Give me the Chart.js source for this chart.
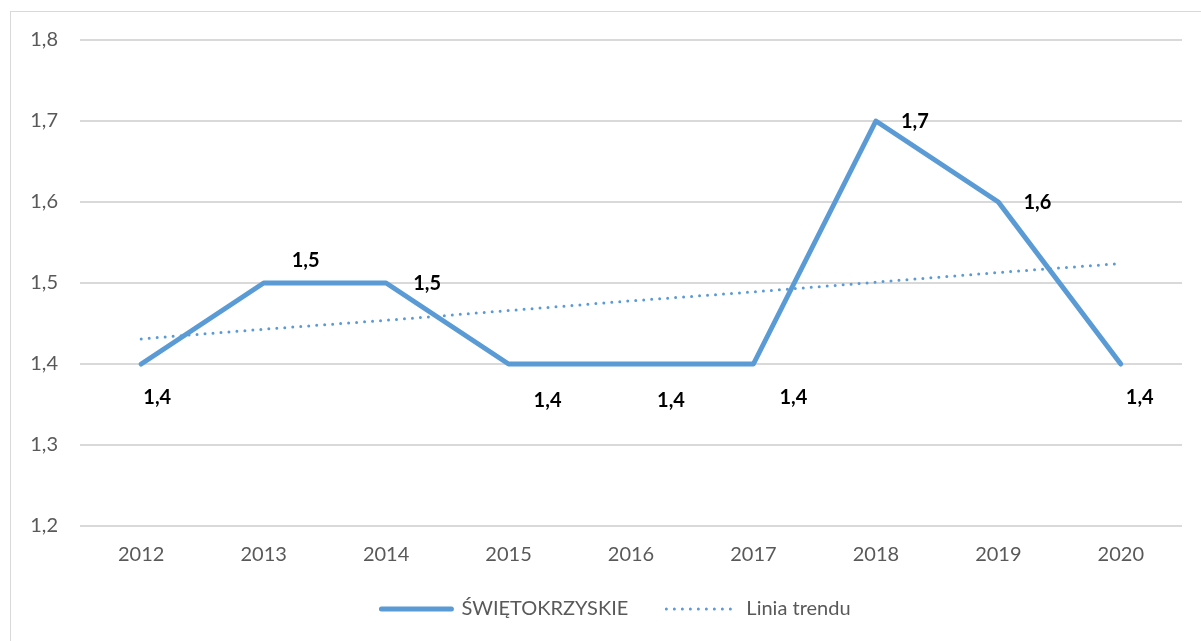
<!DOCTYPE html>
<html>
<head>
<meta charset="utf-8">
<script src="https://cdn.jsdelivr.net/npm/chart.js@4"></script>
<style>
  html, body { margin: 0; padding: 0; background: #fff; }
  #wrap { width: 1201px; height: 641px; position: relative; }
</style>
</head>
<body>
<div id="wrap"><canvas id="trendChart"></canvas></div>
<script>
const years = ['2012', '2013', '2014', '2015', '2016', '2017', '2018', '2019', '2020'];
const swietokrzyskie = [1.4, 1.5, 1.5, 1.4, 1.4, 1.4, 1.7, 1.6, 1.4];
const trendLine = [1.431, 1.443, 1.454, 1.466, 1.478, 1.489, 1.501, 1.513, 1.524];
const yTicks = [1.2, 1.3, 1.4, 1.5, 1.6, 1.7, 1.8];

// where each value label sits relative to its point (px)
const labelOffsets = [[16, 34], [42, -22], [41, 1], [39, 37], [40, 37], [40, 34], [39, 1], [39, 1], [19, 34]];

const blue = '#5B9BD5';
const fmt = v => v.toFixed(1).replace('.', ',');

// frame round the chart, tighter legend, bold value labels
const extras = {
    id: 'extras',
    beforeLayout(chart) {
        const lg = chart.legend;
        if (lg && !lg._tight) {
            const fit = lg.fit;
            lg.fit = function() { fit.call(this); this.height -= 19; };
            lg._tight = true;
        }
    },
    afterLayout(chart) {
        const lg = chart.legend;
        lg.top -= 15;
        lg.left += 25;
        lg.right += 25;
    },
    beforeDraw(chart) {
        const ctx = chart.ctx;
        ctx.save();
        ctx.strokeStyle = '#D9D9D9';
        ctx.lineWidth = 1;
        ctx.strokeRect(10.5, 11.5, 1300, 700);
        ctx.restore();
    },
    afterDatasetsDraw(chart) {
        const ctx = chart.ctx;
        const meta = chart.getDatasetMeta(0);
        ctx.save();
        ctx.font = 'bold 20px Lato';
        ctx.fillStyle = '#000';
        ctx.textAlign = 'center';
        ctx.textBaseline = 'middle';
        meta.data.forEach((pt, i) => {
            const off = labelOffsets[i];
            ctx.fillText(fmt(swietokrzyskie[i]), pt.x + off[0], pt.y + off[1]);
        });
        ctx.restore();
    }
};

const ctx = document.getElementById('trendChart').getContext('2d');
new Chart(ctx, {
    type: 'line',
    data: {
        labels: years,
        datasets: [{
            label: 'ŚWIĘTOKRZYSKIE',
            data: swietokrzyskie,
            borderColor: blue,
            backgroundColor: blue,
            borderWidth: 5,
            pointRadius: 0,
            tension: 0,
            borderCapStyle: 'round',
            borderJoinStyle: 'round'
        }, {
            label: 'Linia trendu',
            data: trendLine,
            borderColor: blue,
            backgroundColor: blue,
            borderWidth: 3,
            borderDash: [0, 8],
            borderCapStyle: 'round',
            pointRadius: 0,
            tension: 0
        }]
    },
    options: {
        responsive: true,
        maintainAspectRatio: false,
        animation: false,
        layout: { padding: { top: 40, right: 19, left: 0, bottom: 16 } },
        plugins: {
            tooltip: { enabled: false },
            legend: {
                position: 'bottom',
                labels: {
                    usePointStyle: true,
                    pointStyle: 'line',
                    pointStyleWidth: 70,
                    padding: 38,
                    color: '#595959',
                    font: { family: 'Lato', size: 20 },
                    generateLabels(chart) {
                        const items = Chart.defaults.plugins.legend.labels.generateLabels(chart);
                        return items.map((it, i) => {
                            const ds = chart.data.datasets[i];
                            it.pointStyle = 'line';
                            it.lineWidth = ds.borderWidth;
                            it.lineDash = ds.borderDash || [];
                            it.lineCap = 'round';
                            it.strokeStyle = ds.borderColor;
                            return it;
                        });
                    }
                }
            }
        },
        scales: {
            x: {
                offset: true,
                grid: { display: false },
                border: { display: false },
                ticks: { color: '#595959', padding: 9, font: { family: 'Lato', size: 20 } }
            },
            y: {
                min: 1.2,
                max: 1.8,
                afterFit(scale) { scale.width = 80; },
                afterBuildTicks(scale) { scale.ticks = yTicks.map(v => ({ value: v })); },
                grid: { color: '#D9D9D9', lineWidth: 2, drawTicks: false },
                border: { display: false },
                ticks: {
                    color: '#595959',
                    padding: 22,
                    font: { family: 'Lato', size: 20 },
                    callback: v => fmt(v)
                }
            }
        }
    },
    plugins: [extras]
});
</script>
</body>
</html>
